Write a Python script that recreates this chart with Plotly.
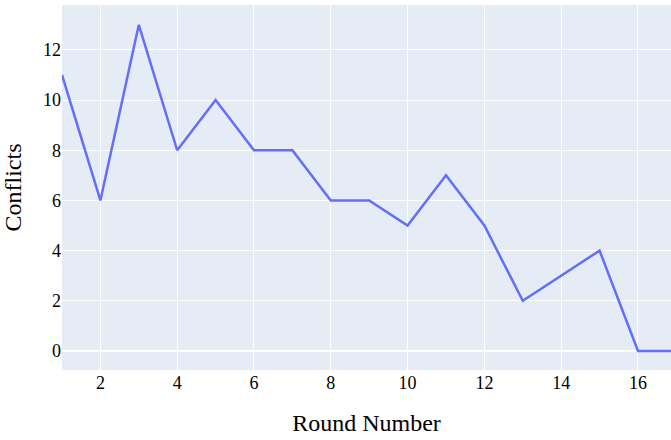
import plotly.graph_objects as go

rounds = list(range(1, 18))
conflicts = [11, 6, 13, 8, 10, 8, 8, 6, 6, 5, 7, 5, 2, 3, 4, 0, 0]

fig = go.Figure(go.Scatter(x=rounds, y=conflicts, mode="lines",
                           line=dict(color="#636efa", width=2.5)))
fig.update_layout(
    width=671, height=440,
    template="plotly",
    font=dict(family="Liberation Serif, Times New Roman, serif", size=18, color="black"),
    margin=dict(l=62, r=0, t=5, b=70),
    xaxis=dict(title=dict(text="Round Number", font=dict(size=24), standoff=22),
               range=[1, 16.86], dtick=2, tick0=0),
    yaxis=dict(title=dict(text="Conflicts", font=dict(size=24)), range=[-0.76, 13.79],
               dtick=2),
    showlegend=False,
)
fig.write_html("out.html", config={"displayModeBar": False},
               post_script="document.body.style.margin='0';")
